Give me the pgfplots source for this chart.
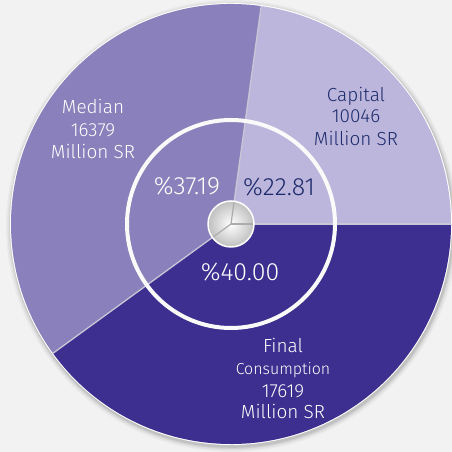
\documentclass[border=0pt]{standalone}
\usepackage{pgfplots}
\pgfplotsset{compat=1.18}
\usepackage{pgfplotstable}
\usepackage{fontspec}
\setmainfont{Fira Sans}[UprightFont=* Light]
\definecolor{bg}{HTML}{F2F2F2}
\definecolor{cmed}{HTML}{8A80BB}
\definecolor{ccap}{HTML}{BDB6DC}
\definecolor{cfin}{HTML}{3C2F8F}
\definecolor{navy}{HTML}{1C2B6B}
\definecolor{sep}{HTML}{C9C6D6}
\pgfplotstableread{
label value
Capital 10046
Median 16379
Final 17619
}\pietable
\pgfplotstablegetelem{0}{value}\of\pietable \let\vCap\pgfplotsretval
\pgfplotstablegetelem{1}{value}\of\pietable \let\vMed\pgfplotsretval
\pgfplotstablegetelem{2}{value}\of\pietable \let\vFin\pgfplotsretval
\edef\aA{\fpeval{360*\vCap/(\vCap+\vMed+\vFin)}}
\edef\aB{\fpeval{360*(\vCap+\vMed)/(\vCap+\vMed+\vFin)}}
\def\R{220}
\begin{document}
\begin{tikzpicture}
\begin{axis}[x=1bp, y=1bp, xmin=-231, xmax=221, ymin=-228, ymax=224,
  hide axis, clip=true]
\fill[bg] (rel axis cs:0,0) rectangle (rel axis cs:1,1);
\begin{scope}[shift={(axis cs:0,0)}]
  % shadow
  \fill[black, opacity=0.03] (1bp,-2bp) circle[radius=226bp];
  \fill[black, opacity=0.04] (1bp,-2bp) circle[radius=224.5bp];
  \fill[black, opacity=0.06] (1bp,-2bp) circle[radius=223bp];
  \fill[black, opacity=0.08] (1bp,-2bp) circle[radius=221.8bp];
  \fill[white] (0bp,0bp) circle[radius=221bp];
  % slices
  \fill[ccap] (0bp,0bp) -- (0:\R bp) arc[start angle=0, end angle=\aA, radius=\R bp] -- cycle;
  \fill[cmed] (0bp,0bp) -- (\aA:\R bp) arc[start angle=\aA, end angle=\aB, radius=\R bp] -- cycle;
  \fill[cfin] (0bp,0bp) -- (\aB:\R bp) arc[start angle=\aB, end angle=360, radius=\R bp] -- cycle;
  % separators
  \draw[sep, line width=1.3bp] (0bp,0bp) -- (0:\R bp);
  \draw[sep, line width=1.3bp] (0bp,0bp) -- (\aA:\R bp);
  \draw[sep, line width=1.3bp] (0bp,0bp) -- (\aB:\R bp);
  % inner ring
  \draw[white!96!gray, line width=4bp] (0bp,0bp) circle[radius=104bp];
  % hub
  \shade[inner color=white, outer color=gray!50] (0bp,0bp) circle[radius=23bp];
  \draw[gray!65, line width=1.2bp] (0bp,0bp) -- (0:23bp);
  \draw[gray!65, line width=1.2bp] (0bp,0bp) -- (\aA:23bp);
  \draw[gray!65, line width=1.2bp] (0bp,0bp) -- (\aB:23bp);
  \draw[white, line width=1.5bp] (0bp,0bp) circle[radius=23bp];
\end{scope}
% labels
\begin{scope}[every node/.style={anchor=mid, inner sep=0pt, font=\fontsize{19}{22}\selectfont}]
\node[white] at (axis cs:-138,113) {Median};
\node[white] at (axis cs:-138,90) {16379};
\node[white] at (axis cs:-138,68) {Million SR};
\node[navy] at (axis cs:125,125) {Capital};
\node[navy] at (axis cs:125,104) {10046};
\node[navy] at (axis cs:125,81) {Million SR};
\node[white] at (axis cs:52,-126) {Final};
\node[white, font=\fontsize{16}{18}\selectfont] at (axis cs:52,-148) {Consumption};
\node[white] at (axis cs:52,-171) {17619};
\node[white] at (axis cs:52,-192) {Million SR};
\end{scope}
\begin{scope}[every node/.style={anchor=mid, inner sep=0pt, font=\fontsize{25}{27}\selectfont}]
\node[white] at (axis cs:-44,32) {\%37.19};
\node[navy] at (axis cs:48,31) {\%22.81};
\node[white] at (axis cs:9,-54) {\%40.00};
\end{scope}
\end{axis}
\end{tikzpicture}
\end{document}
